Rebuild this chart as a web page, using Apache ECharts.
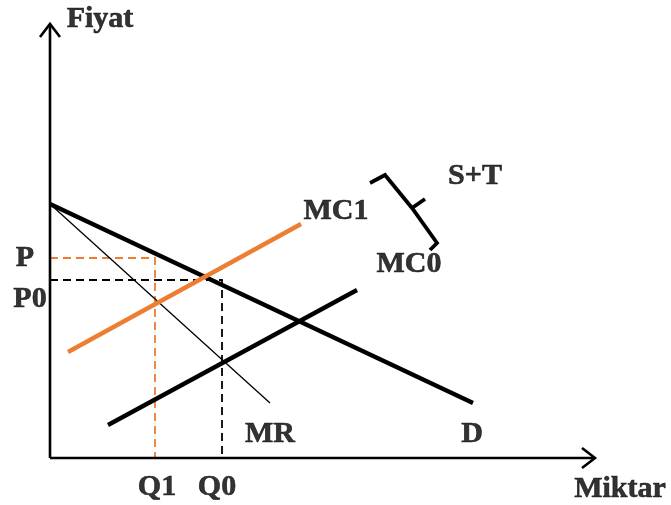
<!DOCTYPE html>
<html>
<head>
<meta charset="utf-8">
<script src="https://cdn.jsdelivr.net/npm/echarts@6/dist/echarts.min.js"></script>
<style>
html,body{margin:0;padding:0;background:#fff;}
#chart{width:671px;height:505px;}
</style>
</head>
<body>
<div id="chart"></div>
<script>
// Curve endpoints (quantity, price) in chart units
const demand = [[0, 254], [423, 55]];
const marginalRevenue = [[0, 254], [220, 55]];
const mc1 = [[18, 106], [251, 234]];
const mc0 = [[58, 33], [307, 168]];
// Equilibrium levels
const P = 200, P0 = 178, Q1 = 105, Q0 = 172;
const dashOrange = [[0, P], [Q1, P], [Q1, 0]];
const dashBlack = [[0, P0], [Q0, P0], [Q0, 0]];
// S+T brace
const brace = [[320, 275], [335, 283], [362, 250], [387, 215], [380, 208]];
const braceTick = [[362, 250], [375, 259]];
// Axes
const xAxisLine = [[0, 0], [545, 0]];
const xArrow = [[532, 10], [545, 0], [532, -10]];
const yAxisLine = [[0, 0], [0, 434]];
const yArrow = [[-10, 421], [0, 434], [10, 421]];
// Text labels
const labelTexts = ['Fiyat', 'S+T', 'MC1', 'MC0', 'P', 'P0', 'MR', 'D', 'Q1', 'Q0', 'Miktar'];
const labelAnchors = [[50, 439], [425, 282], [286, 247], [359, 194], [-25, 200], [-20, 159], [220, 24], [422, 24], [107, -29], [167, -29], [570, -31]];

const orange = '#ED7D31';
function line(data, color, width, type) {
  return {
    type: 'line', data: data, symbol: 'none', silent: true, clip: false,
    lineStyle: { color: color, width: width, type: type || 'solid', cap: 'butt', join: 'miter', opacity: 1 },
    z: 2
  };
}

const chart = echarts.init(document.getElementById('chart'), null, { renderer: 'canvas' });
chart.setOption({
  animation: false,
  backgroundColor: '#fff',
  grid: { left: 0, right: 0, top: 0, bottom: 0 },
  xAxis: { type: 'value', min: -50, max: 621, show: false },
  yAxis: { type: 'value', min: -47, max: 458, show: false },
  series: [
    line(dashOrange, orange, 1.8, [8, 5]),
    line(dashBlack, '#000', 1.8, [8, 5]),
    line(xAxisLine, '#000', 2.6),
    line(xArrow, '#000', 2.6),
    line(yAxisLine, '#000', 2.6),
    line(yArrow, '#000', 2.6),
    line(marginalRevenue, '#000', 1.3),
    line(demand, '#000', 4.3),
    line(mc0, '#000', 4.3),
    line(mc1, orange, 4.3),
    line(brace, '#000', 3.8),
    line(braceTick, '#000', 3.8),
    {
      type: 'scatter', silent: true, clip: false, symbolSize: 0,
      data: labelTexts.map((t, i) => ({ name: t, value: labelAnchors[i] })),
      label: {
        show: true, position: 'inside', formatter: p => p.name,
        fontFamily: '"Liberation Serif", "Times New Roman", serif',
        fontWeight: 'bold', fontSize: 30, color: '#000',
        textBorderColor: '#000', textBorderWidth: 0.6
      },
      z: 5
    }
  ]
});
</script>
</body>
</html>
